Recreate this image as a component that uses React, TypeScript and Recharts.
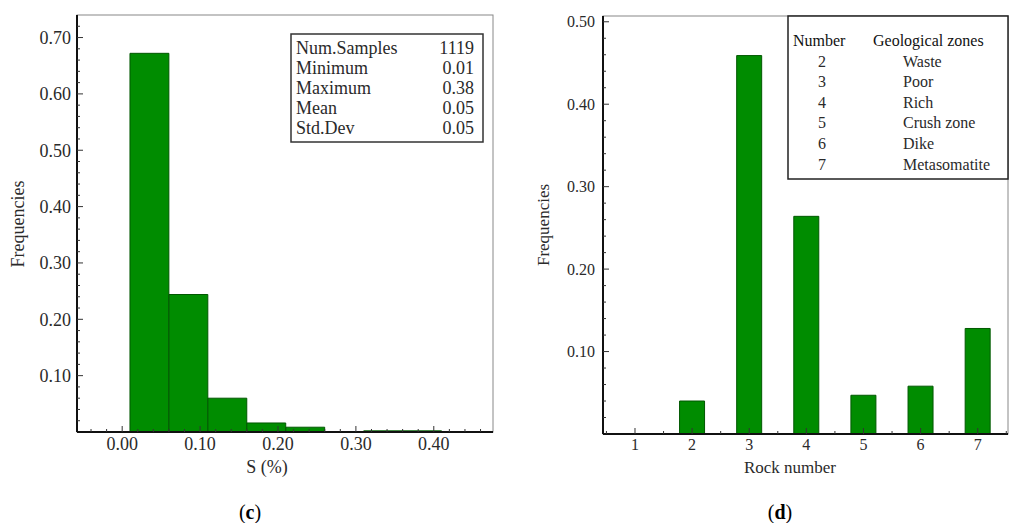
import React from 'react';
import { BarChart, Bar, XAxis, YAxis } from 'recharts';

// ---- Data: panel (c) histogram of S (%) ----
const sBinCenters = [0.035, 0.085, 0.135, 0.185, 0.235, 0.285, 0.335, 0.385];
const sFrequencies = [0.672, 0.244, 0.06, 0.016, 0.0085, 0, 0.002, 0.002];
const sTicks = [0, 0.1, 0.2, 0.3, 0.4];
const sMinorTicks = [-0.04, -0.02, 0, 0.02, 0.04, 0.06, 0.08, 0.1, 0.12, 0.14, 0.16, 0.18, 0.2, 0.22, 0.24, 0.26, 0.28, 0.3, 0.32, 0.34, 0.36, 0.38, 0.4, 0.42, 0.44, 0.46];
const sFreqTicks = [0.1, 0.2, 0.3, 0.4, 0.5, 0.6, 0.7];
const sFreqMinorTicks = [0.02, 0.04, 0.06, 0.08, 0.1, 0.12, 0.14, 0.16, 0.18, 0.2, 0.22, 0.24, 0.26, 0.28, 0.3, 0.32, 0.34, 0.36, 0.38, 0.4, 0.42, 0.44, 0.46, 0.48, 0.5, 0.52, 0.54, 0.56, 0.58, 0.6, 0.62, 0.64, 0.66, 0.68, 0.7, 0.72];
const statsLabels = ['Num.Samples', 'Minimum', 'Maximum', 'Mean', 'Std.Dev'];
const statsValues = ['1119', '0.01', '0.38', '0.05', '0.05'];

// ---- Data: panel (d) rock number frequencies ----
const rockNumbers = [1, 2, 3, 4, 5, 6, 7];
const rockFrequencies = [0, 0.04, 0.459, 0.264, 0.047, 0.058, 0.128];
const rockMinorTicks = [0.5, 1, 1.5, 2, 2.5, 3, 3.5, 4, 4.5, 5, 5.5, 6, 6.5, 7, 7.5];
const rockFreqTicks = [0.1, 0.2, 0.3, 0.4, 0.5];
const rockFreqMinorTicks = [0.02, 0.04, 0.06, 0.08, 0.1, 0.12, 0.14, 0.16, 0.18, 0.2, 0.22, 0.24, 0.26, 0.28, 0.3, 0.32, 0.34, 0.36, 0.38, 0.4, 0.42, 0.44, 0.46, 0.48, 0.5];
const zoneNumbers = ['2', '3', '4', '5', '6', '7'];
const zoneNames = ['Waste', 'Poor', 'Rich', 'Crush zone', 'Dike', 'Metasomatite'];

const sData = sBinCenters.map((x, i) => ({ x, f: sFrequencies[i] }));
const rockData = rockNumbers.map((x, i) => ({ x, f: rockFrequencies[i] }));

const FONT = "'Liberation Serif', 'DejaVu Serif', 'Times New Roman', serif";
const TXT = '#2a2a2a';
const fontStyle = { fontFamily: FONT };

const isIn = (v: number, arr: number[]) => arr.some((a) => Math.abs(a - v) < 1e-6);

const makeYTick = (fontSize: number, majors: number[], margin: number) => (props: any) => {
  const { x, y, payload } = props;
  const v = Number(payload.value);
  const axisX = x + margin;
  const major = isIn(v, majors);
  return (
    <g>
      <line x1={axisX} x2={axisX + (major ? 6 : 3)} y1={y} y2={y} stroke="#333" strokeWidth={1} />
      {major && (
        <text x={x} y={y} dy="0.35em" textAnchor="end" style={fontStyle} fontSize={fontSize} fill={TXT}>
          {v.toFixed(2)}
        </text>
      )}
    </g>
  );
};

const makeXTick = (fontSize: number, majors: number[], fmt: (v: number) => string) => (props: any) => {
  const { x, y, payload } = props;
  const v = Number(payload.value);
  const axisY = y - 5;
  const major = isIn(v, majors);
  return (
    <g>
      <line x1={x} x2={x} y1={axisY} y2={axisY - (major ? 6 : 3)} stroke="#333" strokeWidth={1} />
      {major && (
        <text x={x} y={y} dy="0.71em" textAnchor="middle" style={fontStyle} fontSize={fontSize} fill={TXT}>
          {fmt(v)}
        </text>
      )}
    </g>
  );
};

// inward ticks for the top and right frame edges
const TopTick = (props: any) => {
  const { x, y } = props;
  return <line x1={x} x2={x} y1={y} y2={y + 3} stroke="#555" strokeWidth={1} />;
};
const RightTick = (props: any) => {
  const { x, y } = props;
  return <line x1={x} x2={x - 3} y1={y} y2={y} stroke="#555" strokeWidth={1} />;
};

export default function App() {
  return (
    <div style={{ position: 'absolute', left: 0, top: 0, width: 1010, height: 523, background: '#fff', overflow: 'hidden', fontFamily: FONT }}>
      {/* frames behind */}
      <svg width={1010} height={523} style={{ position: 'absolute', left: 0, top: 0 }}>
        <rect x={77} y={15} width={416} height={417} fill="none" stroke="#888" strokeWidth={1} />
        <rect x={603} y={16} width={405} height={418} fill="none" stroke="#888" strokeWidth={1} />
      </svg>

      {/* panel (c) */}
      <div style={{ position: 'absolute', left: 0, top: 0 }}>
        <BarChart width={500} height={523} data={sData} barCategoryGap={0} barGap={0} margin={{ top: 15, right: 7, bottom: 61, left: 17 }}>
          <XAxis
            dataKey="x"
            type="number"
            domain={[-0.058, 0.476]}
            allowDataOverflow
            ticks={sMinorTicks}
            interval={0}
            height={30}
            tickSize={0}
            tickMargin={5}
            tickLine={false}
            axisLine={{ stroke: '#111', strokeWidth: 2 }}
            tick={makeXTick(18, sTicks, (v) => v.toFixed(2))}
          />
          <XAxis
            xAxisId="top"
            orientation="top"
            type="number"
            domain={[-0.058, 0.476]}
            allowDataOverflow
            ticks={sMinorTicks}
            interval={0}
            height={0}
            tickSize={0}
            tickMargin={0}
            tickLine={false}
            axisLine={false}
            tick={TopTick}
          />
          <YAxis
            type="number"
            domain={[0, 0.74]}
            allowDataOverflow
            ticks={sFreqMinorTicks}
            interval={0}
            width={60}
            tickSize={0}
            tickMargin={6}
            tickLine={false}
            axisLine={{ stroke: '#111', strokeWidth: 2 }}
            tick={makeYTick(18, sFreqTicks, 6)}
          />
          <YAxis
            yAxisId="right"
            orientation="right"
            type="number"
            domain={[0, 0.74]}
            allowDataOverflow
            ticks={sFreqMinorTicks}
            interval={0}
            width={0}
            tickSize={0}
            tickMargin={0}
            tickLine={false}
            axisLine={false}
            tick={RightTick}
          />
          <Bar dataKey="f" fill="#008c00" stroke="#005800" strokeWidth={1} barSize={38.9} isAnimationActive={false} />
        </BarChart>
      </div>

      {/* panel (d) */}
      <div style={{ position: 'absolute', left: 510, top: 0 }}>
        <BarChart width={500} height={523} data={rockData} margin={{ top: 16, right: 2, bottom: 59, left: 33 }}>
          <XAxis
            dataKey="x"
            type="number"
            domain={[0.44, 7.53]}
            allowDataOverflow
            ticks={rockMinorTicks}
            interval={0}
            height={30}
            tickSize={0}
            tickMargin={5}
            tickLine={false}
            axisLine={{ stroke: '#111', strokeWidth: 2 }}
            tick={makeXTick(16, rockNumbers, (v) => String(v))}
          />
          <XAxis
            xAxisId="top"
            orientation="top"
            type="number"
            domain={[0.44, 7.53]}
            allowDataOverflow
            ticks={rockMinorTicks}
            interval={0}
            height={0}
            tickSize={0}
            tickMargin={0}
            tickLine={false}
            axisLine={false}
            tick={TopTick}
          />
          <YAxis
            type="number"
            domain={[0, 0.507]}
            allowDataOverflow
            ticks={rockFreqMinorTicks}
            interval={0}
            width={60}
            tickSize={0}
            tickMargin={8}
            tickLine={false}
            axisLine={{ stroke: '#111', strokeWidth: 2 }}
            tick={makeYTick(16, rockFreqTicks, 8)}
          />
          <Bar dataKey="f" fill="#008c00" stroke="#005800" strokeWidth={1} barSize={25} isAnimationActive={false} />
        </BarChart>
      </div>

      {/* annotations on top */}
      <svg width={1010} height={523} style={{ position: 'absolute', left: 0, top: 0, pointerEvents: 'none', fontFamily: FONT }}>
        {/* stats box */}
        <rect x={291} y={34} width={192} height={108} fill="#fff" stroke="#333" strokeWidth={1.5} />
        {statsLabels.map((s, i) => (
          <text key={s} x={296} y={48 + i * 20} dy="0.35em" fontSize={18} fill={TXT}>{s}</text>
        ))}
        {statsValues.map((s, i) => (
          <text key={i} x={474} y={48 + i * 20} dy="0.35em" fontSize={18} fill={TXT} textAnchor="end">{s}</text>
        ))}
        {/* legend box */}
        <rect x={788} y={16} width={220} height={163} fill="#fff" stroke="#222" strokeWidth={1.5} />
        <text x={793} y={40} dy="0.35em" fontSize={16} fill="#111">Number</text>
        <text x={873} y={40} dy="0.35em" fontSize={16} fill="#111">Geological zones</text>
        {zoneNumbers.map((n, i) => (
          <text key={n} x={822} y={61 + i * 20.6} dy="0.35em" fontSize={16} fill={TXT} textAnchor="middle">{n}</text>
        ))}
        {zoneNames.map((n, i) => (
          <text key={n} x={903} y={61 + i * 20.6} dy="0.35em" fontSize={16} fill={TXT}>{n}</text>
        ))}
        {/* axis titles */}
        <text x={18} y={224} dy="0.35em" fontSize={18} fill={TXT} textAnchor="middle" transform="rotate(-90 18 224)">Frequencies</text>
        <text x={267} y={467} dy="0.35em" fontSize={18} fill={TXT} textAnchor="middle">S (%)</text>
        <text x={543} y={225} dy="0.35em" fontSize={17} fill={TXT} textAnchor="middle" transform="rotate(-90 543 225)">Frequencies</text>
        <text x={790} y={467} dy="0.35em" fontSize={17} fill={TXT} textAnchor="middle">Rock number</text>
        {/* captions */}
        <text x={250} y={512} dy="0.35em" fontSize={20} fill="#000" textAnchor="middle">(<tspan fontWeight="bold">c</tspan>)</text>
        <text x={780} y={512} dy="0.35em" fontSize={20} fill="#000" textAnchor="middle">(<tspan fontWeight="bold">d</tspan>)</text>
      </svg>
    </div>
  );
}
